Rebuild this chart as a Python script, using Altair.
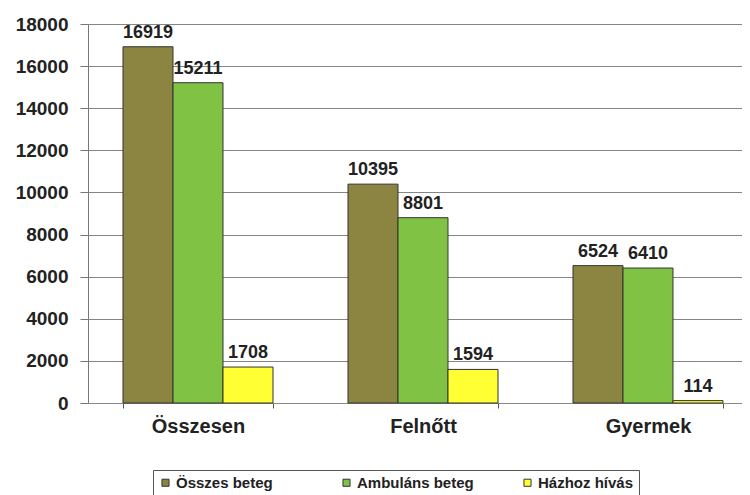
import altair as alt
import pandas as pd

categories = ["Összesen", "Felnőtt", "Gyermek"]
series = ["Összes beteg", "Ambuláns beteg", "Házhoz hívás"]
osszes = [16919, 10395, 6524]
ambulans = [15211, 8801, 6410]
hazhoz = [1708, 1594, 114]
colors = ["#8c8541", "#7fc244", "#ffff33"]
y_ticks = list(range(0, 18001, 2000))

rows = []
for i, c in enumerate(categories):
    for s, vals in zip(series, [osszes, ambulans, hazhoz]):
        rows.append({"category": c, "series": s, "value": vals[i]})
df = pd.DataFrame(rows)

FONT = "Liberation Sans"

x_enc = alt.X(
    "category:N",
    sort=categories,
    scale=alt.Scale(paddingInner=1 / 3, paddingOuter=0.12, align=0.648),
    axis=alt.Axis(
        title=None,
        labelAngle=0,
        labelFont=FONT,
        labelFontSize=20,
        labelFontWeight="bold",
        labelColor="#222222",
        labelPadding=8,
        tickBand="extent",
        tickSize=5,
        tickColor="#555555",
        domainColor="#888888",
        grid=False,
    ),
)
y_enc = alt.Y(
    "value:Q",
    scale=alt.Scale(domain=[0, 18000], nice=False),
    axis=alt.Axis(
        title=None,
        values=y_ticks,
        format="d",
        labelFont=FONT,
        labelFontSize=19,
        labelFontWeight="bold",
        labelColor="#222222",
        labelPadding=12,
        tickSize=8,
        tickColor="#777777",
        domainColor="#777777",
        gridColor="#858585",
        gridWidth=1,
    ),
)
xoff = alt.XOffset("series:N", sort=series)

bars = alt.Chart(df).mark_bar(stroke="#333333", strokeWidth=1).encode(
    x=x_enc,
    y=y_enc,
    xOffset=xoff,
    color=alt.Color(
        "series:N",
        sort=series,
        scale=alt.Scale(domain=series, range=colors),
        legend=alt.Legend(
            title=None,
            orient="none",
            legendX=65,
            legendY=446,
            direction="horizontal",
            gridAlign="all",
            symbolType="square",
            symbolSize=50,
            symbolStrokeColor="#333333",
            symbolStrokeWidth=1,
            labelFont=FONT,
            labelFontSize=15,
            labelFontWeight="bold",
            labelColor="#222222",
            columnPadding=46,
            strokeColor="#555555",
            padding=5,
            labelOffset=3,
        ),
    ),
)

labels = alt.Chart(df).mark_text(
    font=FONT, fontSize=18, fontWeight="bold", color="#222222", baseline="alphabetic", dy=-9
).encode(
    x=alt.X("category:N", sort=categories),
    y=alt.Y("value:Q"),
    xOffset=alt.XOffset("series:N", sort=series),
    text=alt.Text("value:Q", format="d"),
)

chart = (
    alt.layer(bars, labels)
    .properties(
        width=654,
        height=379,
        autosize=alt.AutoSizeParams(type="none"),
        padding={"left": 80, "top": 16, "right": 0, "bottom": 92},
    )
    .configure_view(stroke=None)
    .configure(background="white")
)

chart.save("out.html", embed_options={"renderer": "svg", "actions": False})
